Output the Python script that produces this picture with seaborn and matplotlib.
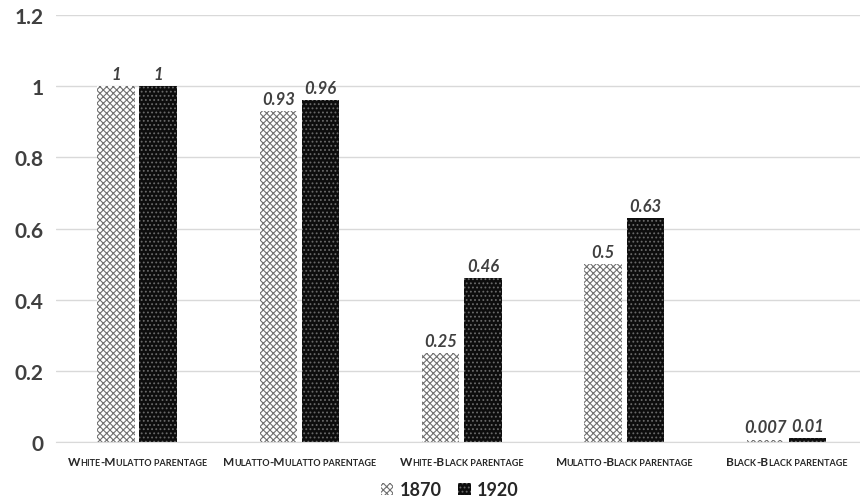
import pandas as pd
import matplotlib.pyplot as plt
import seaborn as sns
from matplotlib.patches import Patch
from matplotlib.offsetbox import TextArea, HPacker, AnnotationBbox

# data
categories = ['White-Mulatto parentage', 'Mulatto-Mulatto parentage',
              'White-Black parentage', 'Mulatto-Black parentage',
              'Black-Black parentage']
values_1870 = [1, 0.93, 0.25, 0.5, 0.007]
values_1920 = [1, 0.96, 0.46, 0.63, 0.01]
labels_1870 = ['1', '0.93', '0.25', '0.5', '0.007']
labels_1920 = ['1', '0.96', '0.46', '0.63', '0.01']
years = ['1870', '1920']

df = pd.DataFrame({
    'category': categories * 2,
    'year': [years[0]] * 5 + [years[1]] * 5,
    'value': values_1870 + values_1920,
})

sns.set_style('white')
plt.rcParams['font.family'] = ['Lato', 'DejaVu Sans']
plt.rcParams['hatch.linewidth'] = 0.8


def small_caps(text, big=8.5, small=6.5, color='#262626'):
    # split into runs of capitals (big) and lower case (small caps)
    runs = []
    for c in text:
        kind = 'big' if (c.isupper() or c == '-') else 'small'
        if runs and runs[-1][0] == kind:
            runs[-1][1] += c
        else:
            runs.append([kind, c])
    kids = [TextArea(s.upper(), textprops=dict(fontsize=big if k == 'big' else small,
                                                fontweight='bold', color=color))
            for k, s in runs]
    return HPacker(children=kids, align='baseline', pad=0, sep=0)


fig = plt.figure(figsize=(8.6, 5.02), dpi=100)
ax = fig.add_axes([0.065, 0.1175, 0.944, 0.8505])

sns.barplot(data=df, x='category', y='value', hue='year', ax=ax,
            width=0.52, gap=0.11, palette=['white', '#111111'],
            legend=False, saturation=1)

n = len(categories)
styles = [dict(fc='white', ec='#707070', hatch='xxxxx'),
          dict(fc='#0d0d0d', ec='#6a6a6a', hatch='....')]
for i, cont in enumerate(ax.containers):
    for bar in cont:
        bar.set_facecolor(styles[i]['fc'])
        bar.set_edgecolor(styles[i]['ec'])
        bar.set_hatch(styles[i]['hatch'])
        bar.set_linewidth(0)
    labs = labels_1870 if i == 0 else labels_1920
    ax.bar_label(cont, labels=labs, padding=3, fontsize=12,
                 fontweight='bold', fontstyle='italic', color='#404040')

ax.set_ylim(0, 1.2)
ax.set_xlim(-0.5, n - 0.5)
ax.set_yticks([0, 0.2, 0.4, 0.6, 0.8, 1, 1.2])
ax.set_yticklabels(['0', '0.2', '0.4', '0.6', '0.8', '1', '1.2'])
ax.set_xticks(range(n))
ax.set_xticklabels([])
ax.tick_params(axis='x', length=0)
ax.tick_params(axis='y', labelsize=15, pad=9, length=0)
for t in ax.get_yticklabels():
    t.set_fontweight('bold')
    t.set_color('#404040')

for i, cat in enumerate(categories):
    ab = AnnotationBbox(small_caps(cat), (i, 0), xycoords=('data', 'axes fraction'),
                        xybox=(0, -10), boxcoords='offset points',
                        box_alignment=(0.5, 1), frameon=False, pad=0,
                        annotation_clip=False)
    ax.add_artist(ab)

ax.grid(axis='y', color='#d9d9d9', linewidth=1)
ax.set_axisbelow(True)
for s in ['top', 'right', 'left']:
    ax.spines[s].set_visible(False)
ax.spines['bottom'].set_color('#d9d9d9')
ax.set_xlabel('')
ax.set_ylabel('')

handles = [Patch(facecolor=st['fc'], edgecolor=st['ec'], hatch=st['hatch'], linewidth=0)
           for st in styles]
leg = fig.legend(handles, years, loc='center', bbox_to_anchor=(0.523, 0.022),
                 ncol=2, frameon=False, handlelength=0.7, handleheight=0.7,
                 handletextpad=0.35, columnspacing=0.9,
                 prop={'size': 13, 'weight': 'bold'})
for t in leg.get_texts():
    t.set_color('#262626')

plt.savefig('out.png', dpi=100)
